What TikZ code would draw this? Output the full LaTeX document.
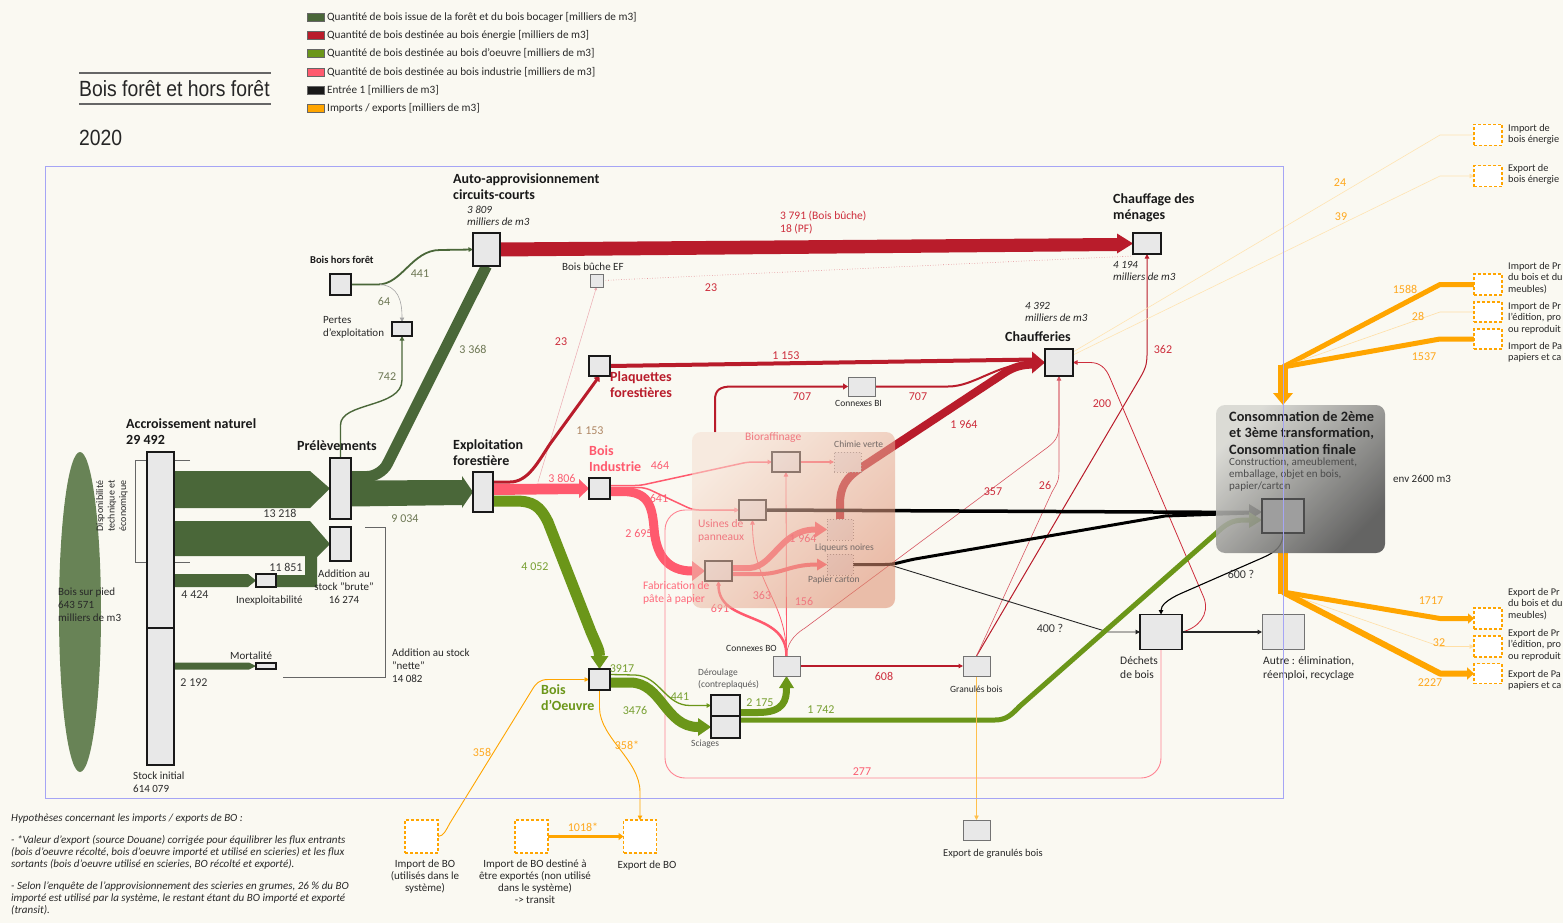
\documentclass[tikz,border=0pt]{standalone}
\usepackage{fontspec}
\setmainfont{Carlito}
\newfontfamily\titlefont{Liberation Sans}[FakeStretch=0.88]
\usetikzlibrary{arrows.meta,calc}
\pgfdeclarelayer{bgl}
\pgfdeclarelayer{flowl}
\pgfdeclarelayer{panell}
\pgfdeclarelayer{topl}
\pgfsetlayers{bgl,flowl,main,panell,topl}

\definecolor{bgc}{RGB}{250,249,242}
\definecolor{colfor}{RGB}{74,103,57}
\definecolor{colell}{RGB}{104,131,86}
\definecolor{colen}{RGB}{185,28,43}
\definecolor{colbo}{RGB}{107,150,25}
\definecolor{colbi}{RGB}{255,90,110}
\definecolor{colorange}{RGB}{255,165,0}
\definecolor{colframe}{RGB}{165,165,245}
\definecolor{colbox}{RGB}{232,232,232}
\definecolor{coltxt}{RGB}{40,40,40}
\definecolor{colgl}{RGB}{110,120,85}
\definecolor{coldk}{RGB}{55,55,55}
\definecolor{colrl}{RGB}{205,45,60}
\definecolor{coltan}{RGB}{175,135,100}
\definecolor{colpl}{RGB}{250,95,115}
\definecolor{colpin}{RGB}{240,120,128}
\definecolor{colgin}{RGB}{115,105,102}
\definecolor{colol}{RGB}{120,160,50}
\definecolor{colorl}{RGB}{255,168,30}
\definecolor{panA}{RGB}{246,222,208}
\definecolor{panB}{RGB}{222,140,110}
\definecolor{conA}{RGB}{215,215,210}
\definecolor{conB}{RGB}{80,80,80}

\tikzset{
 sz/.style 2 args={minimum width=#1pt, minimum height=#2pt},
 bx/.style={draw=black!90, line width=1.6pt, fill=colbox, inner sep=0pt, outer sep=0pt},
 gbx/.style={draw=black!55, line width=1pt, fill=colbox, inner sep=0pt, outer sep=0pt},
 dbx/.style={draw=black!45, dotted, line width=1pt, fill=colbox, inner sep=0pt, outer sep=0pt},
 obx/.style={draw=colorange, dash pattern=on 3pt off 2pt, line width=1.3pt, fill=white, inner sep=0pt, outer sep=0pt},
 lab/.style={inner sep=0pt, align=left, text=coltxt, font=\fontsize{11}{13}\selectfont},
 rlab/.style={inner sep=0pt, align=left, text=coltxt, font=\fontsize{10.3}{11.5}\selectfont},
 sml/.style={inner sep=0pt, align=left, text=coltxt, font=\fontsize{9.5}{11.5}\selectfont},
 val/.style={inner sep=0pt, font=\fontsize{12}{14}\selectfont},
 hdr/.style={inner sep=0pt, align=left, text=black!90, font=\bfseries\fontsize{14}{16}\selectfont},
 itl/.style={inner sep=0pt, align=left, text=coltxt, font=\itshape\fontsize{11}{12}\selectfont},
 tp/.style={-{Triangle[length=4.5pt,width=4.5pt]}},
}

\begin{document}
\begin{tikzpicture}[x=1pt,y=-1pt]
\useasboundingbox (0,0) rectangle (1563,923);
\begin{pgfonlayer}{bgl}
\fill[bgc] (0,0) rectangle (1563,923);
\end{pgfonlayer}

% ---------- legend and title
\filldraw[fill=colfor, draw=black!60, line width=0.5pt] (307,13) rectangle (324,21);
\filldraw[fill=colen, draw=black!60, line width=0.5pt] (307,31) rectangle (324,39);
\filldraw[fill=colbo, draw=black!60, line width=0.5pt] (307,49) rectangle (324,57);
\filldraw[fill=colbi, draw=black!60, line width=0.5pt] (307,68) rectangle (324,76);
\filldraw[fill=black!90, draw=black!60, line width=0.5pt] (307,86) rectangle (324,94);
\filldraw[fill=colorange, draw=black!60, line width=0.5pt] (307,104.5) rectangle (324,112.5);
\node[lab, anchor=west, font=\fontsize{11.2}{13}\selectfont] (lg1) at (327,17) {Quantité de bois issue de la forêt et du bois bocager [milliers de m3]};
\node[lab, anchor=west, font=\fontsize{11.2}{13}\selectfont] (lg2) at (327,35) {Quantité de bois destinée au bois énergie [milliers de m3]};
\node[lab, anchor=west, font=\fontsize{11.2}{13}\selectfont] (lg3) at (327,53) {Quantité de bois destinée au bois d'oeuvre [milliers de m3]};
\node[lab, anchor=west, font=\fontsize{11.2}{13}\selectfont] (lg4) at (327,72) {Quantité de bois destinée au bois industrie [milliers de m3]};
\node[lab, anchor=west, font=\fontsize{11.2}{13}\selectfont] (lg5) at (327,90) {Entrée 1 [milliers de m3]};
\node[lab, anchor=west, font=\fontsize{11.2}{13}\selectfont] (lg6) at (327,108.5) {Imports / exports [milliers de m3]};

\draw[black!60, line width=1.3pt] (79,73) -- (271,73);
\draw[black!60, line width=1.3pt] (79,104) -- (271,104);
\node[inner sep=0pt, anchor=west, text=black!85, font=\titlefont\fontsize{22}{26}\selectfont] (title) at (79,89) {Bois forêt et hors forêt};
\node[inner sep=0pt, anchor=west, text=black!85, font=\titlefont\fontsize{22}{26}\selectfont] (year) at (79,138) {2020};

% ---------- left decorations
\fill[colell] (80,612) ellipse [x radius=21pt, y radius=160pt];
\draw[black!60, line width=0.7pt] (190,460) -- (135,460) -- (135,562) -- (190,562);
\draw[black!60, line width=0.7pt] (365,527) -- (385,527) -- (385,677) -- (283,677);

% ---------- boxes
\node[bx, sz={27}{176}] (acct) at (160.5,540) {};
\node[bx, sz={27}{137}] (accb) at (160.5,696.5) {};
\node[bx, sz={21}{61}] (prel) at (340.5,488.5) {};
\node[bx, sz={21}{34}] (addb) at (340.5,544) {};
\node[bx, sz={20}{13}, line width=1.2pt] (inexp) at (266,580.5) {};
\node[bx, sz={20}{6}, line width=1.2pt] (mort) at (266,666) {};
\node[bx, sz={21}{21}] (bhf) at (340.5,284.5) {};
\node[bx, sz={20}{14}] (pertes) at (402,329) {};
\node[bx, sz={27}{33}] (auto) at (486.5,249.5) {};
\node[bx, sz={20}{40}] (expl) at (483,492) {};
\node[gbx, sz={13}{13}] (bbef) at (596.5,280.5) {};
\node[bx, sz={21}{20}] (plaq) at (599.5,366) {};
\node[bx, sz={21}{21}] (bi) at (599.5,488.5) {};
\node[bx, sz={21}{21}] (bo) at (599.5,679.5) {};
\node[bx, sz={28}{21}] (chm) at (1147,243.5) {};
\node[bx, sz={28}{27}] (chf) at (1059,362.5) {};
\node[gbx, sz={27}{19}] (cbi) at (861.5,386.5) {};
\node[bx, sz={28}{20}] (bio) at (786,462) {};
\node[dbx, sz={27}{20}] (chv) at (847.5,462) {};
\node[bx, sz={27}{20}] (usi) at (752.5,510) {};
\node[bx, sz={27}{20}] (fab) at (718.5,571) {};
\node[dbx, sz={26}{21}] (liq) at (840,529.5) {};
\node[dbx, sz={26}{21}] (pap) at (840,564.5) {};
\node[gbx, sz={27}{20}] (cbo) at (786.5,666) {};
\node[bx, sz={29}{21}] (der) at (725.5,705.5) {};
\node[bx, sz={29}{22}] (sci) at (725.5,727) {};
\node[gbx, sz={27}{20}] (gran) at (976.5,666) {};
\node[gbx, sz={27}{20}] (egran) at (976.5,830) {};
\node[bx, sz={42}{35}] (dech) at (1161,632) {};
\node[gbx, sz={42}{35}] (autre) at (1283,632) {};
\node[obx, sz={28}{21}] (ibe) at (1488,135) {};
\node[obx, sz={28}{21}] (ebe) at (1488,176) {};
\node[obx, sz={28}{21}] (ipb) at (1488,284.5) {};
\node[obx, sz={28}{20}] (ipe) at (1488,312) {};
\node[obx, sz={28}{20}] (ipp) at (1488,339) {};
\node[obx, sz={28}{21}] (epb) at (1488,618.5) {};
\node[obx, sz={28}{21}] (epe) at (1488,646.5) {};
\node[obx, sz={28}{20}] (epp) at (1488,673.5) {};
\node[obx, sz={33}{33}] (ibo) at (421.5,836.5) {};
\node[obx, sz={33}{33}] (ibx) at (531.5,836.5) {};
\node[obx, sz={33}{33}] (ebo) at (640,836.5) {};

\begin{pgfonlayer}{topl}
\node[draw=black!70, line width=1.4pt, fill=black!38, inner sep=0pt, outer sep=0pt, sz={42}{34}] (consi) at (1283,516) {};
\end{pgfonlayer}
\begin{pgfonlayer}{panell}
\shade[rounded corners=9pt, top color=panA, bottom color=panB, shading angle=45, opacity=0.55] (692,432) rectangle (895,608);
\node[shade, top color=conA, bottom color=conB, shading angle=45, opacity=0.88, rounded corners=9pt, inner sep=0pt, outer sep=0pt, sz={169}{148}] (cons) at (1300.5,479) {};
\end{pgfonlayer}

\coordinate (b64) at (380,284.5);
\coordinate (s23) at (538,482);
\coordinate (s707) at (715,432);
\coordinate (s400) at (890,565);
\coordinate (cv1) at (1283,367);
\coordinate (cv2) at (1283,592);
\coordinate (ctop) at (cons.north -| cv1);
\coordinate (cbot) at (cons.south -| cv1);

% ---------- flows
\begin{pgfonlayer}{flowl}
% forest
\fill[colfor] ($(acct.east)+(0,-69)$) -- ($(prel.west)+(-20,-17.5)$) -- (prel.west) -- ($(prel.west)+(-20,19.5)$) -- ($(acct.east)+(0,-32)$) -- cycle;
\fill[colfor] ($(acct.east)+(0,-19)$) -- ($(addb.west)+(-20,-23)$) -- (addb.west) -- ($(addb.west)+(-18,18)$) -- ($(addb.west)+(-25,12)$) -- ($(acct.east)+(0,16)$) -- cycle;
\fill[colfor] ($(inexp.east)+(0,-5.5)$) -- ($(inexp.east)+(29,-5.5)$) -- ($(inexp.east)+(29,-25)$) -- ($(inexp.east)+(41,-25)$) -- ($(inexp.east)+(41,6.5)$) -- ($(inexp.east)+(0,6.5)$) -- cycle;
\fill[colfor] ($(acct.east)+(0,34)$) -- ($(inexp.west)+(-8,-6.5)$) -- (inexp.west) -- ($(inexp.west)+(-8,6.5)$) -- ($(acct.east)+(0,47)$) -- cycle;
\fill[colfor] ($(accb.east)+(0,-34)$) -- ($(mort.west)+(-7,-3.5)$) -- (mort.west) -- ($(mort.west)+(-7,3.5)$) -- ($(accb.east)+(0,-27)$) -- cycle;
\fill[colfor] ($(prel.east)+(0,-8)$) -- ($(expl.west)+(-11,-12)$) -- ($(expl.west)+(-11,-16)$) -- (expl.west) -- ($(expl.west)+(-11,16)$) -- ($(expl.west)+(-11,13)$) -- ($(prel.east)+(0,18)$) -- cycle;
\draw[colfor, line width=11pt, rounded corners=14pt] ($(prel.east)+(0,-12)$) -- ($(prel.east)+(30,-12)$) -- (auto.south);
\draw[colfor, line width=1.4pt, tp] (prel.north) -- (340.5,425) .. controls (340.5,402) and (402,408) .. (402,380) -- (pertes.south);
\draw[colfor, line width=1.8pt, tp] (bhf.east) -- (378,284.5) .. controls (402,284.5) and (412,250) .. (440,250) -- (auto.west);
\draw[black!35, line width=0.6pt, tp] (b64) .. controls (398,286) and (402,300) .. (pertes.north);
% energy
\fill[colen] ($(auto.east)+(0,-7)$) -- ($(chm.west)+(-16,-5.5)$) -- ($(chm.west)+(-16,-10)$) -- (chm.west) -- ($(chm.west)+(-16,10)$) -- ($(chm.west)+(-16,7.5)$) -- ($(auto.east)+(0,7)$) -- cycle;
\draw[colrl!60, line width=0.6pt, dotted] (bbef.east) -- ($(chm.south west)+(0,2)$);
\draw[colrl!40, line width=0.5pt, -{Triangle[length=3pt,width=3pt]}] (s23) -- (bbef.south);
\draw[colen, line width=3pt, -{Triangle[length=5pt,width=7pt]}] ($(expl.east)+(0,-10)$) -- (510,482) .. controls (528,482) and (538,462) .. (550,444) -- (plaq.south);
\draw[colen, line width=4pt] (plaq.east) -- ($(chf.west)+(-10,-3)$);
\draw[colen, line width=2pt, -{Triangle[length=5pt,width=6pt]}] (s707) -- (715,400) .. controls (715,390) and (720,386.5) .. (732,386.5) -- (cbi.west);
\draw[colen, line width=2pt] (cbi.east) -- (948,386.5) .. controls (975,386.5) and (995,364) .. ($(chf.west)+(-10,0)$);
\draw[colen, line width=8pt] (liq.north) -- (840,505) .. controls (840,486) and (846,478) .. (862,467) -- (1003,374) .. controls (1013,367) and (1022,364.5) .. ($(chf.west)+(-10,2)$);
\fill[colen] ($(chf.west)+(-13,-11)$) -- (chf.west) -- ($(chf.west)+(-13,11)$) -- cycle;
\draw[colen, line width=1pt, tp] (gran.north) -- (1140,378) .. controls (1147,366) and (1147,362) .. (1147,352) -- (chm.south);
\draw[colrl!80, line width=0.6pt, tp] (gran.north) -- (1052,492) .. controls (1059,480) .. (1059,465) -- (chf.south);
\draw[colrl!80, line width=0.6pt] (cbo.north) .. controls (787,645) and (792,636) .. (805,628) -- (1048,447) .. controls (1057,440) and (1059,435) .. (1059,423) -- (chf.south);
\draw[colrl, line width=0.8pt, tp] (dech.east) .. controls (1198,628) and (1210,615) .. (1204,598) -- (1110,378) .. controls (1106,368) and (1100,362.5) .. (1090,362.5) -- (chf.east);
\draw[colen, line width=1.2pt, tp] (cbo.east) -- (gran.west);
% industry
\fill[colbi] ($(expl.east)+(0,-8)$) -- ($(bi.west)+(-10,-5)$) -- ($(bi.west)+(-10,-9.5)$) -- (bi.west) -- ($(bi.west)+(-10,9.5)$) -- ($(bi.west)+(-10,5.5)$) -- ($(expl.east)+(0,3)$) -- cycle;
\draw[colbi, line width=9pt] ($(bi.east)+(0,3)$) -- (622,491.5) .. controls (648,491.5) and (652,505) .. (654,528) .. controls (656,556) and (668,571) .. (692,571);
\fill[colbi] ($(fab.west)+(-13,-10)$) -- (fab.west) -- ($(fab.west)+(-13,10)$) -- cycle;
\draw[colbi, line width=1.5pt, tp, rounded corners=5pt] ($(bi.east)+(0,-3)$) -- (640,485.5) -- (748,462) -- (bio.west);
\draw[colbi, line width=1.5pt, tp, rounded corners=6pt] ($(bi.east)+(0,-1)$) -- (645,487.5) -- (693,510) -- (usi.west);
\draw[colbi, line width=1.5pt, tp] (bio.east) -- (chv.west);
\draw[colbi, line width=6pt] ($(fab.east)+(0,-3)$) -- (750,568) .. controls (774,566) and (780,530) .. (815,529.5);
\fill[colbi] ($(liq.west)+(-12,-8)$) -- (liq.west) -- ($(liq.west)+(-12,8)$) -- cycle;
\draw[colbi, line width=4pt] ($(fab.east)+(0,3)$) -- (760,574) .. controls (782,574) and (790,564.5) .. (817,564.5);
\fill[colbi] ($(pap.west)+(-10,-6)$) -- (pap.west) -- ($(pap.west)+(-10,6)$) -- cycle;
\draw[colbi, line width=2.5pt, tp] (cbo.north) .. controls (786.5,610) and (718.5,625) .. (fab.south);
\draw[colbi, line width=0.8pt, tp] (cbo.north) .. controls (786.5,600) and (752.5,585) .. (usi.south);
\draw[colbi, line width=0.8pt, tp] (cbo.north) -- (bio.south);
\draw[colbi!75, line width=0.9pt, tp, rounded corners=20pt] (dech.south) -- (1161,778) -- (665,778) -- (665,510) -- (usi.west);
% entree 1 (black)
\draw[black, line width=3.5pt] (usi.east) -- ($(consi.west)+(-11,-3.5)$);
\draw[black, line width=3pt] (pap.east) -- (885,564.5) .. controls (895,564.5) and (900,562) .. (915,559) -- (1165,516) -- ($(consi.west)+(-11,-3)$);
\fill[black] ($(consi.west)+(-13,-12)$) -- ($(consi.west)+(0,-4)$) -- ($(consi.west)+(-13,4)$) -- cycle;
\draw[black!85, line width=0.9pt, tp] (s400) -- (1108,632) -- (dech.west);
\draw[black, line width=1.1pt, tp] (consi.south) .. controls (1283,546) and (1276,552) .. (1262,558) -- (1182,593) .. controls (1166,600) and (1161,606) .. (dech.north);
\draw[black!85, line width=1.1pt, tp] (dech.east) -- (autre.west);
% bois d'oeuvre
\draw[colbo, line width=11pt] ($(expl.east)+(0,9)$) -- (515,501) .. controls (533,501) and (540,506) .. (548,522) -- (591,632) .. controls (597,646) and (599.5,650) .. (599.5,656);
\fill[colbo] ($(bo.north)+(-9,-13)$) -- (bo.north) -- ($(bo.north)+(9,-13)$) -- cycle;
\draw[colbo, line width=10pt] ($(bo.east)+(0,3)$) -- (630,682.5) .. controls (662,682.5) and (665,727) .. (698,727);
\fill[colbo] ($(sci.west)+(-13,-9)$) -- (sci.west) -- ($(sci.west)+(-13,9)$) -- cycle;
\draw[colbo, line width=1.3pt, tp] ($(bo.east)+(0,-5)$) -- (635,675) .. controls (660,676) and (665,705.5) .. (690,705.5) -- (der.west);
\draw[colbo, line width=7pt] ($(der.east)+(0,7)$) -- (758,712.5) .. controls (784,712.5) and (786.5,700) .. (786.5,688);
\fill[colbo] ($(cbo.south)+(-7.5,12)$) -- (cbo.south) -- ($(cbo.south)+(7.5,12)$) -- cycle;
\draw[colbo, line width=5pt] ($(sci.east)+(0,-7)$) -- (995,720) .. controls (1007,720) and (1012,714) .. (1020,706) -- (1222,528) .. controls (1232,520) and (1238,520) .. (1250,520);
\fill[colbo] ($(consi.west)+(-13,-4)$) -- ($(consi.west)+(0,4)$) -- ($(consi.west)+(-13,12)$) -- cycle;
% imports / exports
\draw[colorange!30, line width=0.6pt] (ibe.west) -- (1440,135) -- ($(chf.north east)+(0,3)$);
\draw[colorange!30, line width=0.6pt, tp] ($(chf.north east)+(0,6)$) -- (1440,176) -- (ebe.west);
\draw[colorange, line width=5pt, line join=round] (ipb.west) -- (1440,284.5) -- (cv1);
\draw[colorange!35, line width=0.6pt] (ipe.west) -- (1440,312) -- (cv1);
\draw[colorange, line width=5pt, line join=round] (ipp.west) -- (1440,339) -- (cv1);
\draw[colorange, line width=10pt] ($(cv1)+(0,-2)$) -- ($(ctop)+(0,-11)$);
\fill[colorange] ($(ctop)+(-10,-12)$) -- (ctop) -- ($(ctop)+(10,-12)$) -- cycle;
\draw[colorange, line width=10pt] (cbot) -- ($(cv2)+(0,2)$);
\draw[colorange, line width=5pt, line join=round, -{Triangle[length=6pt,width=10pt]}] (cv2) -- (1440,618.5) -- (epb.west);
\draw[colorange!35, line width=0.6pt, tp] (cv2) -- (1440,646.5) -- (epe.west);
\draw[colorange, line width=6pt, line join=round, -{Triangle[length=7pt,width=12pt]}] (cv2) -- (1440,673.5) -- (epp.west);
\draw[colorange, line width=0.9pt, tp] (ibo.east) .. controls (444,836) and (446,830) .. (450,823) -- (532,690) .. controls (536,683) and (540,679.5) .. (548,679.5) -- (bo.west);
\draw[colorange, line width=0.9pt, tp] (bo.south) -- (599.5,708) .. controls (600,738) and (640,760) .. (640,792) -- (ebo.north);
\draw[colorange, line width=2.5pt, -{Triangle[length=5pt,width=7pt]}] (ibx.east) -- (ebo.west);
\draw[colorange!70, line width=0.6pt, tp] (gran.south) -- (egran.north);
\end{pgfonlayer}

% ---------- headers
\node[hdr, anchor=north west, font=\bfseries\fontsize{14}{16}\selectfont] (haccr) at (126,418) {Accroissement naturel\\29 492};
\node[hdr, anchor=west] (hprel) at (297,446) {Prélèvements};
\node[hdr, anchor=north west] (hexpl) at (453,439) {Exploitation\\forestière};
\node[hdr, anchor=north west] (hauto) at (453,173) {Auto-approvisionnement\\circuits-courts};
\node[itl, anchor=north west] (iauto) at (467,206) {3 809\\milliers de m3};
\node[hdr, anchor=north west] (hchm) at (1113,193) {Chauffage des\\ménages};
\node[itl, anchor=north west] (ichm) at (1113,261) {4 194\\milliers de m3};
\node[hdr, anchor=west] (hchf) at (1005,337) {Chaufferies};
\node[itl, anchor=north west] (ichf) at (1025,302) {4 392\\milliers de m3};
\node[hdr, anchor=west, font=\bfseries\fontsize{10.5}{12}\selectfont] (hbhf) at (310,260) {Bois hors forêt};
\node[hdr, anchor=north west, text=colen] (hplaq) at (610,371) {Plaquettes\\forestières};
\node[hdr, anchor=north west, text=colbi] (hbi) at (589,445) {Bois\\Industrie};
\node[hdr, anchor=north west, text=colbo] (hbo) at (541,684) {Bois\\d'Oeuvre};

% ---------- labels
\node[lab, anchor=north west] (lbsp) at (58,588) {Bois sur pied\\643 571\\milliers de m3};
\node[lab, anchor=north west] (lstock) at (133,772) {Stock initial\\614 079};
\node[lab, rotate=90, align=center, font=\fontsize{10}{11.5}\selectfont] (ldisp) at (112,506) {Disponibilité\\technique et\\économique};
\node[lab, anchor=west] (linexp) at (236,601) {Inexploitabilité};
\node[lab, anchor=west] (lmort) at (230,656) {Mortalité};
\node[lab, align=center] (ladd) at (344,587) {Addition au\\stock "brute"\\16 274};
\node[lab, anchor=north west] (lnette) at (392,649) {Addition au stock\\"nette"\\14 082};
\node[lab, anchor=north west] (lpertes) at (323,316) {Pertes\\d'exploitation};
\node[lab, anchor=west] (lbbef) at (562,267) {Bois bûche EF};
\node[sml, anchor=west] (lcbi) at (835,403) {Connexes BI};
\node[sml, anchor=west] (lcbo) at (726,648) {Connexes BO};
\node[sml, anchor=north west, text=black!65] (lder) at (698,669) {Déroulage\\(contreplaqués)};
\node[sml, anchor=west, text=black!65] (lsci) at (691,744) {Sciages};
\node[sml, anchor=west] (lgran) at (950,689) {Granulés bois};
\node[sml, anchor=west, font=\fontsize{10.5}{12}\selectfont] (legran) at (943,854) {Export de granulés bois};
\node[lab, anchor=north west, font=\fontsize{11.5}{14}\selectfont] (ldech) at (1120,656) {Déchets\\de bois};
\node[lab, anchor=north west, font=\fontsize{11.5}{14}\selectfont] (lautre) at (1263,656) {Autre : élimination,\\réemploi, recyclage};
\node[lab, anchor=west] (lenv) at (1393,479) {env 2600 m3};
\node[lab, align=center, anchor=north, font=\fontsize{11}{12}\selectfont] (libo) at (425,860) {Import de BO\\(utilisés dans le\\système)};
\node[lab, align=center, anchor=north, font=\fontsize{11}{12}\selectfont] (libx) at (535,860) {Import de BO destiné à\\être exportés (non utilisé\\dans le système)\\-> transit};
\node[lab] (lebo) at (647,866) {Export de BO};
\node[rlab, anchor=north west] (libe) at (1508,124) {Import de\\bois énergie};
\node[rlab, anchor=north west] (lebe) at (1508,164) {Export de\\bois énergie};
\node[rlab, anchor=north west] (lipb) at (1508,262) {Import de Pr\\du bois et du\\meubles)};
\node[rlab, anchor=north west] (lipe) at (1508,302) {Import de Pr\\l'édition, pro\\ou reproduit};
\node[rlab, anchor=north west] (lipp) at (1508,342) {Import de Pa\\papiers et ca};
\node[rlab, anchor=north west] (lepb) at (1508,588) {Export de Pr\\du bois et du\\meubles)};
\node[rlab, anchor=north west] (lepe) at (1508,629) {Export de Pr\\l'édition, pro\\ou reproduit};
\node[rlab, anchor=north west] (lepp) at (1508,670) {Export de Pa\\papiers et ca};
\node[itl, anchor=north west, font=\itshape\fontsize{11}{12}\selectfont] (hyp) at (11,814) {Hypothèses concernant les imports / exports de BO :\\[10pt]- *Valeur d'export (source Douane) corrigée pour équilibrer les flux entrants\\(bois d'oeuvre récolté, bois d'oeuvre importé et utilisé en scieries) et les flux\\sortants (bois d'oeuvre utilisé en scieries, BO récolté et exporté).\\[10pt]- Selon l'enquête de l'approvisionnement des scieries en grumes, 26 \% du BO\\importé est utilisé par la système, le restant étant  du BO importé et exporté\\(transit).};

% ---------- values
\node[val, text=colgl] (v441a) at (420,274) {441};
\node[val, text=colgl] (v64) at (384,301) {64};
\node[val, text=colgl] (v742) at (387,377) {742};
\node[val, text=colgl] (v3368) at (473,349) {3 368};
\node[val, text=colgl] (v9034) at (405,519) {9 034};
\node[val, text=coldk] (v13218) at (280,513) {13 218};
\node[val, text=coldk] (v11851) at (286,567) {11 851};
\node[val, text=coldk] (v4424) at (195,595) {4 424};
\node[val, text=coldk] (v2192) at (194,683) {2 192};
\node[val, text=colrl, anchor=north west, align=left, font=\fontsize{11.5}{13}\selectfont] (v3791) at (780,211) {3 791 (Bois bûche)\\18 (PF)};
\node[val, text=colrl] (v23a) at (711,288) {23};
\node[val, text=colrl] (v23b) at (561,342) {23};
\node[val, text=colrl] (v1153a) at (786,356) {1 153};
\node[val, text=coltan] (v1153b) at (590,431) {1 153};
\node[val, text=colrl] (v707a) at (802,397) {707};
\node[val, text=colrl] (v707b) at (918,397) {707};
\node[val, text=colrl] (v1964a) at (964,424) {1 964};
\node[val, text=colrl] (v362) at (1163,349) {362};
\node[val, text=colrl] (v200) at (1102,404) {200};
\node[val, text=colrl] (v357) at (993,492) {357};
\node[val, text=colrl] (v26) at (1045,485) {26};
\node[val, text=colrl] (v608) at (884,676) {608};
\node[val, text=colpl] (v3806) at (562,478) {3 806};
\node[val, text=colpl] (v464) at (660,465) {464};
\node[val, text=colpl] (v641) at (659,498) {641};
\node[val, text=colpl] (v2695) at (639,533) {2 695};
\node[val, text=colpl] (v691) at (720,608) {691};
\node[val, text=colpl] (v277) at (862,772) {277};
\node[val, text=colol] (v4052) at (535,567) {4 052};
\node[val, text=colol] (v3917) at (622,669) {3917};
\node[val, text=colol] (v441b) at (680,697) {441};
\node[val, text=colol] (v3476) at (635,710) {3476};
\node[val, text=colol] (v2175) at (760,703) {2 175};
\node[val, text=colol] (v1742) at (821,710) {1 742};
\node[val, text=colorl] (v358) at (482,752) {358};
\node[val, text=colorl] (v358s) at (627,745) {358*};
\node[val, text=colorl] (v1018) at (583,827) {1018*};
\node[val, text=colorl] (v24) at (1340,183) {24};
\node[val, text=colorl] (v39) at (1341,217) {39};
\node[val, text=colorl] (v1588) at (1405,289) {1588};
\node[val, text=colorl] (v28) at (1418,316) {28};
\node[val, text=colorl] (v1537) at (1424,357) {1537};
\node[val, text=colorl] (v1717) at (1431,601) {1717};
\node[val, text=colorl] (v32) at (1439,643) {32};
\node[val, text=colorl] (v2227) at (1430,683) {2227};
\node[val, text=coldk] (v600) at (1241,574) {600 ?};
\node[val, text=coldk] (v400) at (1050,628) {400 ?};

% ---------- top layer
\begin{pgfonlayer}{topl}
\node[lab, anchor=west, text=colpin, font=\fontsize{11.5}{13}\selectfont] (lbio) at (745,438) {Bioraffinage};
\node[sml, anchor=west, text=colgin] (lchv) at (834,444) {Chimie verte};
\node[lab, anchor=north west, text=colpin, font=\fontsize{11.5}{13}\selectfont] (lusi) at (698,519) {Usines de\\panneaux};
\node[sml, anchor=west, text=colgin] (lliq) at (815,548) {Liqueurs noires};
\node[sml, anchor=west, text=colgin] (lpap) at (808,580) {Papier carton};
\node[val, text=colpin] (v1964b) at (803,538) {1 964};
\node[val, text=colpin] (v363) at (762,595) {363};
\node[val, text=colpin] (v156) at (804,601) {156};
\node[lab, anchor=north west, text=colbi!90, font=\fontsize{11.5}{13}\selectfont] (lfab) at (643,581) {Fabrication de\\pâte à papier};
\node[hdr, anchor=north west, text=black!88, font=\bfseries\fontsize{14.3}{16.5}\selectfont] (hcons) at (1229,411) {Consommation de 2ème\\et 3ème transformation,\\Consommation finale};
\node[sml, anchor=north west, text=black!70, font=\fontsize{11}{12}\selectfont] (lcons) at (1229,458) {Construction, ameublement,\\emballage, objet en bois,\\papier/carton};
\draw[colframe, line width=0.9pt] (45,166) rectangle (1283,798);
\end{pgfonlayer}
\end{tikzpicture}
\end{document}
